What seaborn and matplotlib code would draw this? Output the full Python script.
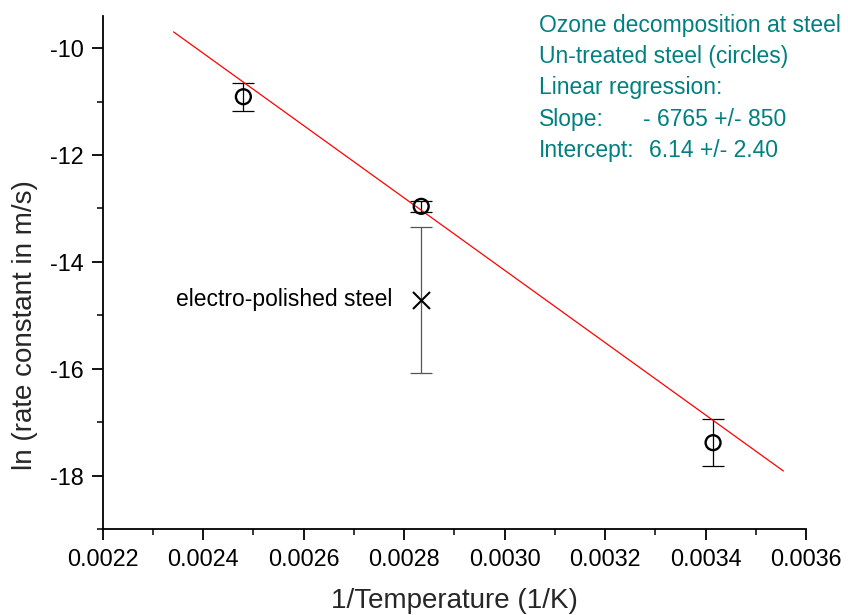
import numpy as np
import pandas as pd
import matplotlib
matplotlib.use("Agg")
import matplotlib.pyplot as plt
import seaborn as sns
from matplotlib.ticker import MultipleLocator, FormatStrFormatter

# ---- data ----
inv_T = [0.00248, 0.002834, 0.003415]          # untreated steel (circles)
ln_k = [-10.91, -12.96, -17.38]
ln_k_err = [0.26, 0.10, 0.44]

ep_inv_T = [0.002834]                            # electro-polished steel (cross)
ep_ln_k = [-14.71]
ep_err = [1.37]

fit_x = [0.002341, 0.003555]                     # regression line extent
slope = -6765
intercept = 6.14

info_lines = ["Ozone decomposition at steel",
              "Un-treated steel (circles)",
              "Linear regression:",
              "Slope:",
              "Intercept:"]
info_values = ["- 6765 +/- 850", "6.14 +/- 2.40"]

xticks = [0.0022, 0.0024, 0.0026, 0.0028, 0.0030, 0.0032, 0.0034, 0.0036]
yticks = [-18, -16, -14, -12, -10]

# ---- style ----
sns.set_theme(style="ticks")
plt.rcParams["font.family"] = ["Liberation Sans", "DejaVu Sans"]
plt.rcParams["axes.unicode_minus"] = False

W, H = 848, 615
fig = plt.figure(figsize=(W / 100, H / 100), dpi=100)
ax = fig.add_axes([102.7 / W, 1 - 529.3 / H, (806 - 102.7) / W, (529.3 - 16) / H])

df_fit = pd.DataFrame({"x": fit_x})
df_fit["y"] = intercept + slope * df_fit["x"]
sns.lineplot(data=df_fit, x="x", y="y", color="#ff0000", linewidth=0.9, ax=ax, zorder=3)

# error bars
ax.errorbar(inv_T, ln_k, yerr=ln_k_err, fmt="none", ecolor="black",
            elinewidth=0.9, capsize=7.9, capthick=0.9, zorder=2)
ax.errorbar(ep_inv_T, ep_ln_k, yerr=ep_err, fmt="none", ecolor="#555555",
            elinewidth=0.9, capsize=7.9, capthick=0.9, zorder=2)

df_pts = pd.DataFrame({"x": inv_T, "y": ln_k})
sns.scatterplot(data=df_pts, x="x", y="y", marker="o", s=115, facecolors="none",
                edgecolor="black", linewidth=1.7, ax=ax, zorder=4)
df_ep = pd.DataFrame({"x": ep_inv_T, "y": ep_ln_k})
sns.scatterplot(data=df_ep, x="x", y="y", marker="x", s=150, color="black",
                linewidth=1.5, ax=ax, zorder=4)

ax.annotate("electro-polished steel", xy=(ep_inv_T[0], ep_ln_k[0]),
            xytext=(-21, 0), textcoords="offset points", ha="right", va="center",
            fontsize=16.5, color="black")

# axes
ax.set_xlim(0.0022, 0.0036)
ax.set_ylim(-19, -9.4)
ax.set_xticks(xticks)
ax.set_yticks(yticks)
ax.xaxis.set_major_formatter(FormatStrFormatter("%.4f"))
ax.yaxis.set_major_formatter(FormatStrFormatter("%d"))
ax.xaxis.set_minor_locator(MultipleLocator(0.0001))
ax.yaxis.set_minor_locator(MultipleLocator(1))
ax.tick_params(which="major", length=8, width=1.3, labelsize=16.8, pad=5.5,
               direction="out", colors="black")
ax.tick_params(which="minor", length=4.5, width=1.3, direction="out")
sns.despine(ax=ax)
for s in ["left", "bottom"]:
    ax.spines[s].set_linewidth(1.3)
    ax.spines[s].set_color("black")

ax.set_xlabel("1/Temperature (1/K)", fontsize=20, labelpad=12)
ax.set_ylabel("ln (rate constant in m/s)", fontsize=20)
ax.yaxis.set_label_coords((38 - 102.7) / (806 - 102.7), 0.398)

# info text (teal)
teal = "#008080"
baselines = [31.7, 63.0, 94.4, 125.8, 157.0]
for txt, yb in zip(info_lines, baselines):
    fig.text(539 / W, 1 - yb / H, txt, color=teal, fontsize=16.5, va="baseline", ha="left")
fig.text(643 / W, 1 - baselines[3] / H, info_values[0], color=teal, fontsize=16.5,
         va="baseline", ha="left")
fig.text(649 / W, 1 - baselines[4] / H, info_values[1], color=teal, fontsize=16.5,
         va="baseline", ha="left")

fig.savefig("out.png", dpi=100)
